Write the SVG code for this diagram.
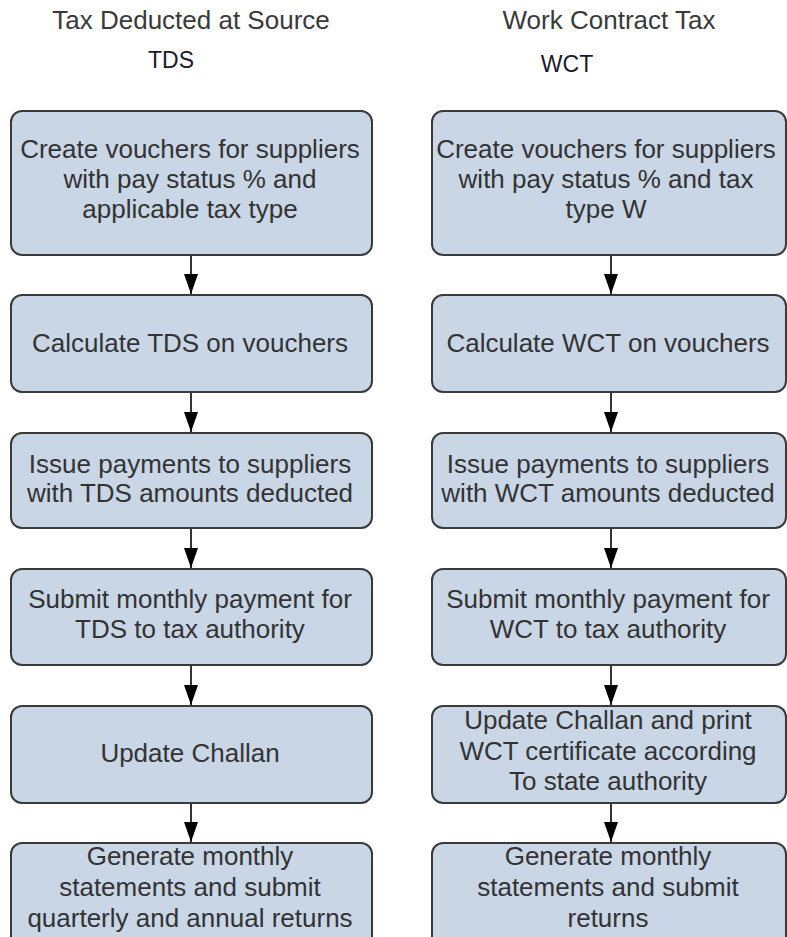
<svg xmlns="http://www.w3.org/2000/svg" width="787" height="937" viewBox="0 0 787 937">
<style>
.box{fill:#c9d6e6;stroke:#3a3a3a;stroke-width:2}
.t{font-family:"Liberation Sans",Arial,sans-serif;font-size:26px;fill:#333333;text-anchor:middle}
.title{font-family:"Liberation Sans",Arial,sans-serif;font-size:26px;fill:#3a3a3a;text-anchor:middle}
.abbr{font-family:"Liberation Sans",Arial,sans-serif;font-size:23px;fill:#1a1a2a;text-anchor:middle}
.c{stroke:#000;stroke-width:1.6;fill:none;marker-end:url(#ah)}
</style>
<defs>
<marker id="ah" viewBox="0 0 20 14" refX="20" refY="7" markerWidth="20" markerHeight="14" markerUnits="userSpaceOnUse" orient="auto">
<path d="M0,0 L20,7 L0,14 z" fill="#000"/>
</marker>
</defs>
<rect width="787" height="937" fill="#ffffff"/>
<g id="titles">
<text class="title" x="191" y="29">Tax Deducted at Source</text>
<text class="abbr" x="171" y="68">TDS</text>
<text class="title" x="609" y="29">Work Contract Tax</text>
<text class="abbr" x="567" y="72">WCT</text>
</g>
<g id="connectors">
<line class="c" x1="191" y1="256" x2="191" y2="294"/>
<line class="c" x1="191" y1="393" x2="191" y2="432"/>
<line class="c" x1="191" y1="529" x2="191" y2="568"/>
<line class="c" x1="191" y1="666" x2="191" y2="705"/>
<line class="c" x1="191" y1="804" x2="191" y2="842"/>
<line class="c" x1="611" y1="256" x2="611" y2="294"/>
<line class="c" x1="611" y1="393" x2="611" y2="432"/>
<line class="c" x1="611" y1="529" x2="611" y2="568"/>
<line class="c" x1="611" y1="666" x2="611" y2="705"/>
<line class="c" x1="611" y1="804" x2="611" y2="842"/>
</g>
<g id="tds1"><rect class="box" x="11" y="111" width="361" height="144" rx="11"/>
<text class="t" x="190" y="158">Create vouchers for suppliers</text>
<text class="t" x="190" y="188">with pay status % and</text>
<text class="t" x="190" y="218">applicable tax type</text></g>
<g id="tds2"><rect class="box" x="11" y="295" width="361" height="97" rx="11"/>
<text class="t" x="190" y="352">Calculate TDS on vouchers</text></g>
<g id="tds3"><rect class="box" x="11" y="433" width="361" height="95" rx="11"/>
<text class="t" x="190" y="473">Issue payments to suppliers</text>
<text class="t" x="190" y="502">with TDS amounts deducted</text></g>
<g id="tds4"><rect class="box" x="11" y="569" width="361" height="96" rx="11"/>
<text class="t" x="190" y="608">Submit monthly payment for</text>
<text class="t" x="190" y="638">TDS to tax authority</text></g>
<g id="tds5"><rect class="box" x="11" y="706" width="361" height="97" rx="11"/>
<text class="t" x="190" y="762">Update Challan</text></g>
<g id="tds6"><rect class="box" x="11" y="843" width="361" height="120" rx="11"/>
<text class="t" x="190" y="865">Generate monthly</text>
<text class="t" x="190" y="896">statements and submit</text>
<text class="t" x="190" y="927">quarterly and annual returns</text></g>
<g id="wct1"><rect class="box" x="432" y="111" width="354" height="144" rx="11"/>
<text class="t" x="606" y="158">Create vouchers for suppliers</text>
<text class="t" x="606" y="188">with pay status % and tax</text>
<text class="t" x="606" y="218">type W</text></g>
<g id="wct2"><rect class="box" x="432" y="295" width="354" height="97" rx="11"/>
<text class="t" x="608" y="352">Calculate WCT on vouchers</text></g>
<g id="wct3"><rect class="box" x="432" y="433" width="354" height="95" rx="11"/>
<text class="t" x="608" y="473">Issue payments to suppliers</text>
<text class="t" x="608" y="502">with WCT amounts deducted</text></g>
<g id="wct4"><rect class="box" x="432" y="569" width="354" height="96" rx="11"/>
<text class="t" x="608" y="608">Submit monthly payment for</text>
<text class="t" x="608" y="638">WCT to tax authority</text></g>
<g id="wct5"><rect class="box" x="432" y="706" width="354" height="97" rx="11"/>
<text class="t" x="608" y="729">Update Challan and print</text>
<text class="t" x="608" y="760">WCT certificate according</text>
<text class="t" x="608" y="790">To state authority</text></g>
<g id="wct6"><rect class="box" x="432" y="843" width="354" height="120" rx="11"/>
<text class="t" x="608" y="865">Generate monthly</text>
<text class="t" x="608" y="896">statements and submit</text>
<text class="t" x="608" y="927">returns</text></g>
</svg>
